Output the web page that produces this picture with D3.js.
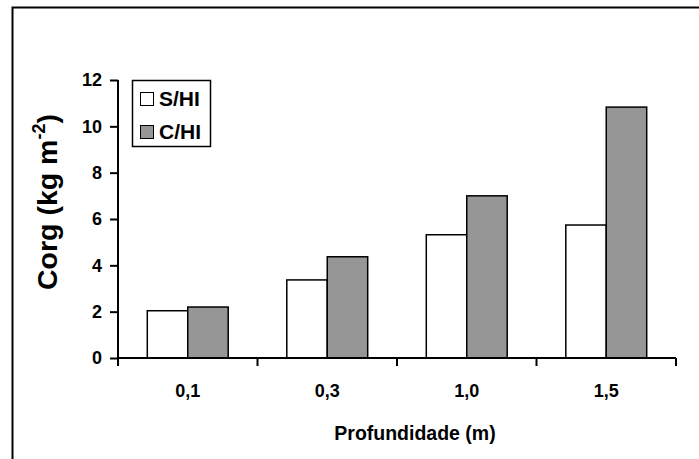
<!DOCTYPE html>
<html>
<head>
<meta charset="utf-8">
<script src="https://cdn.jsdelivr.net/npm/d3@7"></script>
<style>
  html, body { margin: 0; padding: 0; background: #fff; }
  svg { display: block; font-family: Arial, "Liberation Sans", sans-serif; font-weight: bold; }
</style>
</head>
<body>
<svg id="chart" width="699" height="459"></svg>
<script>
const categories = ["0,1", "0,3", "1,0", "1,5"];
const seriesNames = ["S/HI", "C/HI"];
const sHI = [2.04, 3.37, 5.32, 5.74];
const cHI = [2.2, 4.37, 7.0, 10.83];
const yTicks = [0, 2, 4, 6, 8, 10, 12];
const seriesColors = ["#ffffff", "#969696"];

const svg = d3.select("#chart");

// outer frame (cropped at right/bottom)
svg.append("rect")
  .attr("x", 12.5).attr("y", 7.5)
  .attr("width", 720).attr("height", 480)
  .attr("fill", "none").attr("stroke", "#000").attr("stroke-width", 2);

const x0 = d3.scaleBand().domain(categories).range([118, 676])
  .paddingInner(0.42).paddingOuter(0.21);
const x1 = d3.scaleBand().domain(seriesNames).range([0, x0.bandwidth()]);
const y = d3.scaleLinear().domain([0, 12]).range([358, 80]);

const data = categories.map((c, i) => ({ cat: c, values: [
  { name: seriesNames[0], v: sHI[i] },
  { name: seriesNames[1], v: cHI[i] }
]}));

// bars
const g = svg.append("g");
g.selectAll("g.grp").data(data).join("g")
  .attr("class", "grp")
  .attr("transform", d => `translate(${x0(d.cat)},0)`)
  .selectAll("rect").data(d => d.values).join("rect")
  .attr("x", d => x1(d.name))
  .attr("width", x1.bandwidth())
  .attr("y", d => y(d.v))
  .attr("height", d => y(0) - y(d.v))
  .attr("fill", (d, i) => seriesColors[i])
  .attr("stroke", "#000")
  .attr("stroke-width", 1.5);

// y axis
const yAxis = svg.append("g").attr("transform", "translate(118,0)")
  .call(d3.axisLeft(y).tickValues(yTicks).tickFormat(d3.format("d")).tickSize(8).tickPadding(8));
yAxis.attr("font-size", 18).attr("font-family", "Arial, 'Liberation Sans', sans-serif");
yAxis.select(".domain").attr("stroke", "#000").attr("stroke-width", 2)
  .attr("d", `M0,${y(12)}V${y(0)}`);
yAxis.selectAll(".tick line").attr("stroke", "#000").attr("stroke-width", 2);
yAxis.selectAll("text").style("font-size", "18px").style("font-weight", "bold").attr("fill", "#000");

// x axis
const xAxis = svg.append("g").attr("transform", `translate(0,${y(0)})`)
  .call(d3.axisBottom(x0).tickSize(0).tickPadding(26));
xAxis.attr("font-size", 18).attr("font-family", "Arial, 'Liberation Sans', sans-serif");
xAxis.select(".domain").attr("stroke", "#000").attr("stroke-width", 2)
  .attr("d", `M${x0.range()[0]},0H${x0.range()[1]}`);
xAxis.selectAll("text").style("font-size", "18px").style("font-weight", "bold").attr("fill", "#000");
// boundary ticks between categories
const bounds = d3.range(categories.length + 1).map(i => x0.range()[0] + i * x0.step());
xAxis.selectAll("line.bt").data(bounds).join("line")
  .attr("class", "bt")
  .attr("x1", d => d).attr("x2", d => d)
  .attr("y1", 0).attr("y2", 8)
  .attr("stroke", "#000").attr("stroke-width", 2);

// axis titles
svg.append("text")
  .attr("x", 415).attr("y", 440)
  .attr("text-anchor", "middle")
  .style("font-size", "19.5px")
  .text("Profundidade (m)");

const yt = svg.append("text")
  .attr("transform", "translate(57,202) rotate(-90)")
  .attr("text-anchor", "middle")
  .style("font-size", "28.5px");
yt.append("tspan").text("Corg (kg m");
yt.append("tspan").style("font-size", "18px").attr("dy", -12).text("-2");
yt.append("tspan").attr("dy", 12).text(")");

// legend
const lg = svg.append("g");
lg.append("rect").attr("x", 132.5).attr("y", 80.5).attr("width", 78).attr("height", 66)
  .attr("fill", "#fff").attr("stroke", "#000").attr("stroke-width", 1.5);
const items = lg.selectAll("g.item").data(seriesNames).join("g").attr("class", "item")
  .attr("transform", (d, i) => `translate(0,${i * 33})`);
items.append("rect").attr("x", 140.5).attr("y", 92.5).attr("width", 13).attr("height", 13)
  .attr("fill", (d, i) => seriesColors[i]).attr("stroke", "#000").attr("stroke-width", 1);
items.append("text").attr("x", 159).attr("y", 106).style("font-size", "21px").text(d => d);
</script>
</body>
</html>
